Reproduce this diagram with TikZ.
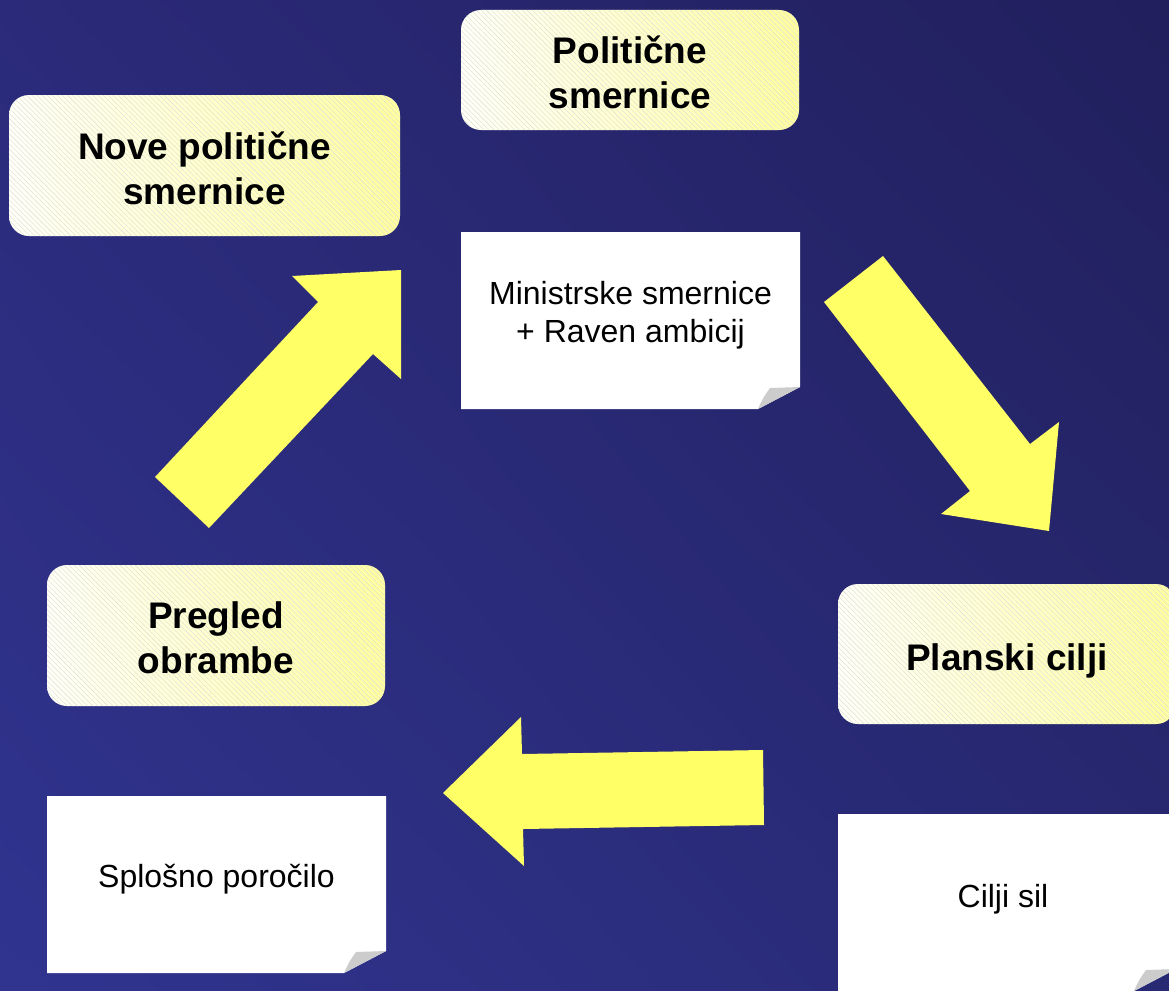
\documentclass[tikz,border=0pt]{standalone}
\usepackage{fontspec}
\setmainfont{Liberation Sans}
\usetikzlibrary{patterns.meta,shadings}

\definecolor{bgtopleft}{HTML}{2B2A7A}
\definecolor{bgtopright}{HTML}{211F5C}
\definecolor{bgbotleft}{HTML}{30348F}
\definecolor{bgbotright}{HTML}{282973}
\definecolor{arrowyellow}{HTML}{FFFF66}
\definecolor{curlgray}{HTML}{CCCCCC}

\begin{document}
\begin{tikzpicture}[x=1pt, y=-1pt,
    headbox/.style={rounded corners=20pt, minimum width=338pt, minimum height=141pt,
        left color=yellow!3, right color=yellow!38,
        postaction={pattern={Lines[angle=-45,distance=3.6pt,line width=0.4pt]}, pattern color=black!14}},
    headtext/.style={align=center, yshift=-2.5pt, font=\bfseries\fontsize{37}{45}\selectfont},
    notepaper/.style={fill=white},
    notecurl/.style={fill=curlgray},
    notetext/.style={align=center, font=\fontsize{32}{38}\selectfont},
    bigarrow/.style={fill=arrowyellow}]
    \useasboundingbox (0,0) rectangle (1169,990);
    \begin{scope}
    \clip (0,0) rectangle (1169,990);

    % Background
    \shade[upper left=bgtopleft, upper right=bgtopright, lower left=bgbotleft, lower right=bgbotright]
        (0,0) rectangle (1169,990);

    % Headings
    \node[headbox, minimum height=120pt, label={[headtext]center:{Politične\\smernice}}] (polsmer) at (630,70) {};
    \node[headbox, minimum width=391pt, label={[headtext]center:{Nove politične\\smernice}}] (novesmer) at (204.5,165.5) {};
    \node[headbox, label={[headtext]center:{Pregled\\obrambe}}] (pregled) at (216,635.5) {};
    \node[headbox, minimum height=140pt, label={[headtext, yshift=-4.5pt]center:{Planski cilji}}] (planski) at (1007,654) {};

    % Notes
    \fill[notepaper] (461,232) -- (800,232) -- (800,387) -- (758,409) -- (461,409) -- cycle;
    \fill[notecurl] (758,409) .. controls (763,398) .. (770,388) -- (800,387) -- cycle;
    \node[notetext] (minsmer) at (630.5,315) {Ministrske smernice\\+ Raven ambicij};

    \fill[notepaper] (47,796) -- (386,796) -- (386,951) -- (344,973) -- (47,973) -- cycle;
    \fill[notecurl] (344,973) .. controls (349,962) .. (356,952) -- (386,951) -- cycle;
    \node[notetext] (porocilo) at (216.5,879) {Splošno poročilo};

    \fill[notepaper] (838,814) -- (1176,814) -- (1176,969) -- (1134,991) -- (838,991) -- cycle;
    \fill[notecurl] (1134,991) .. controls (1139,980) .. (1146,970) -- (1176,969) -- cycle;
    \node[notetext] (ciljisil) at (1003,899) {Cilji sil};

    % Cycle arrows
    \fill[bigarrow] (155,477) -- (318,302) -- (292,276) -- (401,270) -- (401,379)
        -- (373,354) -- (209,528) -- cycle;
    \fill[bigarrow] (883,256) -- (1030,444) -- (1059,422) -- (1049,531) -- (941,514)
        -- (970,491) -- (824,302) -- cycle;
    \fill[bigarrow] (763,750) -- (522,754) -- (521,717) -- (443,793) -- (524,866)
        -- (523,829) -- (764,825) -- cycle;
    \end{scope}
\end{tikzpicture}
\end{document}
